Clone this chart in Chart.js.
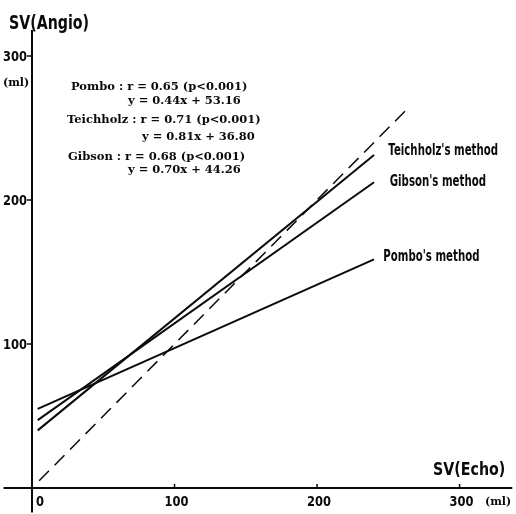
<!DOCTYPE html>
<html>
<head>
<meta charset="utf-8">
<title>SV(Angio) vs SV(Echo)</title>
<script src="https://cdn.jsdelivr.net/npm/chart.js@4.4.0/dist/chart.umd.min.js"></script>
<style>
  html, body { margin: 0; padding: 0; background: #fff; }
  canvas { display: block; }
</style>
</head>
<body>
<canvas id="chart" width="516" height="514"></canvas>
<script>
// ── Data ─────────────────────────────────────────────────────
const methods = ['Pombo', 'Teichholz', 'Gibson']
const lineX = [4, 240]                    // regression lines run over this SV(Echo) range
const pomboY = [55.0, 158.8]
const teichholzY = [40.0, 231.2]
const gibsonY = [47.1, 212.3]
const identityX = [5, 265]
const identityY = [5, 265]
const tickValues = [0, 100, 200, 300]
const tickLabels = ['0', '100', '200', '300']
const statsLines = [
  'Pombo : r = 0.65 (p<0.001)',
  'y = 0.44x + 53.16',
  'Teichholz : r = 0.71 (p<0.001)',
  'y = 0.81x + 36.80',
  'Gibson : r = 0.68 (p<0.001)',
  'y = 0.70x + 44.26',
]
const methodLabels = ["Teichholz's method", "Gibson's method", "Pombo's method"]

// ── Styling ──────────────────────────────────────────────────
const ink = '#0a0a0a'
const sans = '"DejaVu Sans", "Liberation Sans", sans-serif'
const serif = '"DejaVu Serif", "Liberation Serif", serif'

const pts = (xs, ys) => xs.map((x, i) => ({ x, y: ys[i] }))

// condensed look: squeeze the glyphs horizontally
function squeezed(ctx, text, x, y, k) {
  ctx.save()
  ctx.translate(x, y)
  ctx.scale(k, 1)
  ctx.fillText(text, 0, 0)
  ctx.restore()
}

// axes, ticks and all the text are drawn from the scales
const decor = {
  id: 'decor',
  afterDatasetsDraw(chart) {
    const { ctx } = chart
    const sx = chart.scales.x
    const sy = chart.scales.y
    const X = (v) => sx.getPixelForValue(v)
    const Y = (v) => sy.getPixelForValue(v)
    ctx.save()
    ctx.strokeStyle = ink
    ctx.fillStyle = ink

    // axis lines
    ctx.lineWidth = 2
    ctx.beginPath()
    ctx.moveTo(X(-20), Y(0))
    ctx.lineTo(X(337), Y(0))
    ctx.moveTo(X(0), Y(-17))
    ctx.lineTo(X(0), Y(318))
    ctx.stroke()

    // tick marks
    ctx.lineWidth = 1.5
    ctx.beginPath()
    tickValues.slice(1).forEach((v) => {
      ctx.moveTo(X(v), Y(0))
      ctx.lineTo(X(v), Y(0) - 4)
      ctx.moveTo(X(0), Y(v))
      ctx.lineTo(X(0) - 5, Y(v))
    })
    ctx.stroke()

    // tick labels
    ctx.font = `bold 14px ${sans}`
    ctx.textBaseline = 'middle'
    ctx.textAlign = 'center'
    tickValues.forEach((v, i) => {
      const px = v === 0 ? X(v) + 8 : X(v) + 2
      squeezed(ctx, tickLabels[i], px, Y(0) + 14, 0.82)
    })
    ctx.textAlign = 'right'
    tickValues.slice(1).forEach((v, i) => {
      squeezed(ctx, tickLabels[i + 1], X(0) - 5, Y(v) + 1, 0.82)
    })

    // units
    ctx.font = `bold 11px ${serif}`
    ctx.textAlign = 'left'
    ctx.fillText('(ml)', 485, Y(0) + 14)
    ctx.fillText('(ml)', 3, Y(300) + 27)

    // axis titles
    ctx.font = `bold 20px ${sans}`
    ctx.textBaseline = 'alphabetic'
    squeezed(ctx, 'SV(Angio)', 9, 29, 0.71)
    ctx.font = `bold 18px ${sans}`
    squeezed(ctx, 'SV(Echo)', 433, Y(0) - 13, 0.79)

    // statistics block
    ctx.font = `bold 11.5px ${serif}`
    ctx.textBaseline = 'middle'
    const statPos = [[71, 87], [128, 101], [67, 120], [142, 137], [68, 157], [128, 170]]
    statsLines.forEach((t, i) => ctx.fillText(t, statPos[i][0], statPos[i][1]))

    // method labels, anchored in data space
    ctx.font = `bold 15px ${sans}`
    const labelAt = [[250, 234], [251, 212.5], [246.5, 160]]
    methodLabels.forEach((t, i) => squeezed(ctx, t, X(labelAt[i][0]), Y(labelAt[i][1]), 0.68))
    ctx.restore()
  },
}

new Chart(document.getElementById('chart'), {
  type: 'scatter',
  data: {
    datasets: [
      { label: methods[0], data: pts(lineX, pomboY) },
      { label: methods[1], data: pts(lineX, teichholzY) },
      { label: methods[2], data: pts(lineX, gibsonY) },
      {
        label: 'y = x',
        data: pts(identityX, identityY),
        borderWidth: 1.5,
        borderDash: [14, 8],
      },
    ].map((d) => ({
      showLine: true,
      borderColor: ink,
      borderWidth: 2,
      pointRadius: 0,
      fill: false,
      ...d,
    })),
  },
  options: {
    responsive: false,
    animation: false,
    layout: { padding: 0 },
    plugins: { legend: { display: false }, tooltip: { enabled: false } },
    scales: {
      x: { type: 'linear', display: false, min: -22.46, max: 339.6 },
      y: { type: 'linear', display: false, min: -18.06, max: 338.9 },
    },
  },
  plugins: [decor],
})
</script>
</body>
</html>
